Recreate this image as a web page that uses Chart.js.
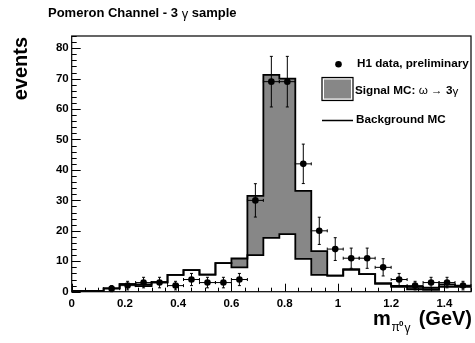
<!DOCTYPE html>
<html>
<head>
<meta charset="utf-8">
<script src="https://cdn.jsdelivr.net/npm/chart.js@4.4.0/dist/chart.umd.min.js"></script>
<style>
  body { margin: 0; background: #fff; }
  canvas { display: block; }
</style>
</head>
<body>
<canvas id="c" width="475" height="343"></canvas>
<script>
// histogram binning (GeV)
const binEdges = [0.00, 0.06, 0.12, 0.18, 0.24, 0.30, 0.36, 0.42, 0.48, 0.54, 0.60, 0.66, 0.72,
                  0.78, 0.84, 0.90, 0.96, 1.02, 1.08, 1.14, 1.20, 1.26, 1.32, 1.38, 1.44, 1.50];
const binCenters = [0.03, 0.09, 0.15, 0.21, 0.27, 0.33, 0.39, 0.45, 0.51, 0.57, 0.63, 0.69, 0.75,
                    0.81, 0.87, 0.93, 0.99, 1.05, 1.11, 1.17, 1.23, 1.29, 1.35, 1.41, 1.47];

// MC histograms (stacked: background + signal)
const backgroundMC = [0.3, 0.3, 1.1, 2.5, 1.8, 3.1, 5.5, 7.1, 5.6, 9.4, 8.0, 12.0, 17.7,
                      18.9, 10.8, 5.5, 5.3, 7.3, 5.8, 2.7, 1.6, 0.8, 0.6, 1.6, 1.6];
const signalMC = [0, 0, 0, 0, 0.6, 0, 0, 0, 0, 0, 2.9, 19.5, 53.5,
                  51.1, 22.3, 7.8, 0, 0, 0, 0, 0.3, 0.8, 0.7, 0.8, 0.4];

// H1 data points and their errors
const h1Data = [null, null, 1, 2, 3, 3, 2, 4, 3, 3, 4, 30, 69,
                69, 42, 20, 14, 11, 11, 8, 4, 2, 3, 3, 2];
const h1Err = [null, null, 1, 1.41, 1.73, 1.73, 1.41, 2, 1.73, 1.73, 2, 5.48, 8.31,
               8.31, 6.48, 4.47, 3.74, 3.32, 3.32, 2.83, 2, 1.41, 1.73, 1.73, 1.41];

const FONT = '"Liberation Sans", Arial, Helvetica, sans-serif';
const GREY = '#878787';

function stepPoints(vals) {
    const pts = vals.map((v, i) => ({ x: binEdges[i], y: v }));
    pts.push({ x: binEdges[vals.length], y: vals[vals.length - 1] });
    return pts;
}

const totalMC = backgroundMC.map((b, i) => b + signalMC[i]);

// error bars for the data points
const errorBars = {
    id: 'errorBars',
    afterDatasetsDraw(chart) {
        const ctx = chart.ctx;
        const xs = chart.scales.x, ys = chart.scales.y;
        ctx.save();
        ctx.strokeStyle = '#000';
        ctx.lineWidth = 1;
        h1Data.forEach((v, i) => {
            if (v === null) return;
            const cx = xs.getPixelForValue(binCenters[i]);
            const cy = ys.getPixelForValue(v);
            const xl = xs.getPixelForValue(binEdges[i]);
            const xr = xs.getPixelForValue(binEdges[i + 1]);
            const yt = ys.getPixelForValue(v + h1Err[i]);
            const yb = ys.getPixelForValue(Math.max(0, v - h1Err[i]));
            ctx.beginPath();
            ctx.moveTo(xl, cy); ctx.lineTo(xr, cy);
            ctx.moveTo(cx, yt); ctx.lineTo(cx, yb);
            ctx.moveTo(cx - 1.5, yt); ctx.lineTo(cx + 1.5, yt);
            ctx.moveTo(cx - 1.5, yb); ctx.lineTo(cx + 1.5, yb);
            ctx.moveTo(xl, cy - 1.5); ctx.lineTo(xl, cy + 1.5);
            ctx.moveTo(xr, cy - 1.5); ctx.lineTo(xr, cy + 1.5);
            ctx.stroke();
        });
        ctx.restore();
    }
};

// frame, inward ticks, titles and legend
const decorations = {
    id: 'decorations',
    afterDraw(chart) {
        const ctx = chart.ctx;
        const a = chart.chartArea;
        const xs = chart.scales.x, ys = chart.scales.y;
        ctx.save();
        ctx.strokeStyle = '#000';
        ctx.lineWidth = 1.2;
        ctx.strokeRect(a.left, a.top, a.right - a.left, a.bottom - a.top);

        ctx.lineWidth = 1;
        ctx.beginPath();
        for (let v = 0; v <= 1.5001; v += 0.05) {
            const px = Math.round(xs.getPixelForValue(v)) + 0.5;
            const major = Math.abs(v / 0.2 - Math.round(v / 0.2)) < 1e-6;
            ctx.moveTo(px, a.bottom);
            ctx.lineTo(px, a.bottom - (major ? 8 : 4));
        }
        for (let v = 0; v <= 84; v += 2) {
            const py = Math.round(ys.getPixelForValue(v)) + 0.5;
            const major = v % 10 === 0;
            ctx.moveTo(a.left, py);
            ctx.lineTo(a.left + (major ? 9 : 5), py);
        }
        ctx.stroke();

        ctx.fillStyle = '#000';
        ctx.textBaseline = 'middle';
        // title
        let x = 48;
        ctx.font = 'bold 13px ' + FONT;
        ctx.fillText('Pomeron Channel - 3 ', x, 13);
        x += ctx.measureText('Pomeron Channel - 3 ').width;
        ctx.font = '13px ' + FONT;
        ctx.fillText('\u03b3', x, 14);
        x += ctx.measureText('\u03b3').width;
        ctx.font = 'bold 13px ' + FONT;
        ctx.fillText(' sample', x, 13);

        // y axis title
        ctx.save();
        ctx.translate(27, 37);
        ctx.rotate(-Math.PI / 2);
        ctx.font = 'bold 20px ' + FONT;
        ctx.textAlign = 'right';
        ctx.textBaseline = 'alphabetic';
        ctx.fillText('events', 0, 0);
        ctx.restore();

        // x axis title
        ctx.textBaseline = 'alphabetic';
        ctx.font = 'bold 20px ' + FONT;
        ctx.textAlign = 'right';
        ctx.fillText('(GeV)', 472, 325);
        ctx.textAlign = 'left';
        ctx.fillText('m', 373, 325);
        ctx.font = '12px ' + FONT;
        ctx.fillText('\u03c0', 391.5, 331);
        ctx.font = 'bold 8px ' + FONT;
        ctx.fillText('0', 399, 326);
        ctx.font = '12px ' + FONT;
        ctx.fillText('\u03b3', 404.5, 332);

        // legend
        ctx.textBaseline = 'middle';
        ctx.beginPath();
        ctx.arc(338.5, 64.3, 3.3, 0, Math.PI * 2);
        ctx.fill();
        ctx.font = 'bold 11.7px ' + FONT;
        ctx.fillText('H1 data, preliminary', 357, 64);

        ctx.fillStyle = GREY;
        ctx.fillRect(323, 78.5, 29, 21);
        ctx.strokeStyle = '#fff';
        ctx.lineWidth = 1;
        ctx.strokeRect(323.5, 79, 28, 20);
        ctx.strokeStyle = '#000';
        ctx.lineWidth = 1.2;
        ctx.strokeRect(322, 77.5, 31, 23);

        ctx.fillStyle = '#000';
        x = 355;
        ctx.font = 'bold 11.7px ' + FONT;
        ctx.fillText('Signal MC: ', x, 91);
        x += ctx.measureText('Signal MC: ').width;
        ctx.font = '11.7px ' + FONT;
        ctx.fillText('\u03c9 \u2192 ', x, 91);
        x += ctx.measureText('\u03c9 \u2192 ').width;
        ctx.font = 'bold 11.7px ' + FONT;
        ctx.fillText('3', x, 91);
        x += ctx.measureText('3').width;
        ctx.font = '11.7px ' + FONT;
        ctx.fillText('\u03b3', x, 92);

        ctx.lineWidth = 1.5;
        ctx.beginPath();
        ctx.moveTo(322, 120.5);
        ctx.lineTo(353, 120.5);
        ctx.stroke();
        ctx.font = 'bold 11.7px ' + FONT;
        ctx.fillText('Background MC', 356, 120);
        ctx.restore();
    }
};

const ctx = document.getElementById('c').getContext('2d');
new Chart(ctx, {
    type: 'line',
    data: {
        datasets: [
            {
                label: 'H1 data, preliminary',
                data: binCenters.map((c, i) => ({ x: c, y: h1Data[i] })),
                showLine: false,
                pointRadius: 3.3,
                pointBackgroundColor: '#000',
                pointBorderWidth: 0,
                order: 0,
            },
            {
                label: 'Background MC',
                data: stepPoints(backgroundMC),
                stepped: true,
                borderColor: '#000',
                borderWidth: 1.8,
                pointRadius: 0,
                fill: false,
                order: 1,
            },
            {
                label: 'Signal MC',
                data: stepPoints(totalMC),
                stepped: true,
                borderColor: '#000',
                borderWidth: 1.8,
                pointRadius: 0,
                backgroundColor: GREY,
                fill: 1,
                order: 2,
            },
        ],
    },
    options: {
        responsive: false,
        animation: false,
        layout: { padding: { top: 36, right: 2.7, left: 0, bottom: 0 } },
        scales: {
            x: {
                type: 'linear',
                min: 0,
                max: 1.5,
                grid: { display: false, drawTicks: false },
                border: { display: false },
                ticks: {
                    stepSize: 0.2,
                    includeBounds: false,
                    maxRotation: 0,
                    autoSkip: false,
                    padding: 5,
                    color: '#000',
                    font: { family: FONT, size: 11.5, weight: 'bold' },
                    callback: v => String(Number(v.toFixed(1))),
                },
                afterFit: s => { s.height = 51.3; },
            },
            y: {
                min: 0,
                max: 84,
                grid: { display: false, drawTicks: false },
                border: { display: false },
                ticks: {
                    stepSize: 10,
                    includeBounds: false,
                    padding: 3,
                    color: '#000',
                    font: { family: FONT, size: 11.5, weight: 'bold' },
                },
                afterFit: s => { s.width = 71.7; },
            },
        },
        plugins: {
            legend: { display: false },
            tooltip: { enabled: false },
        },
    },
    plugins: [errorBars, decorations],
});
</script>
</body>
</html>
